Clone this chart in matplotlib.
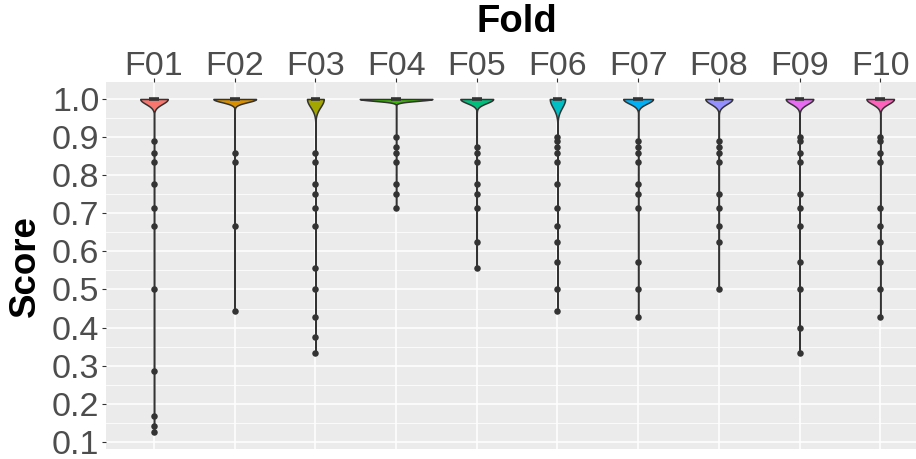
import numpy as np
import matplotlib
matplotlib.use("Agg")
import matplotlib.pyplot as plt

# ---------------- data ----------------
folds = ["F01", "F02", "F03", "F04", "F05", "F06", "F07", "F08", "F09", "F10"]
fold_colors = ["#F8766D", "#D89000", "#A3A500", "#39B600", "#00BF7D",
               "#00BFC4", "#00B0F6", "#9590FF", "#E76BF3", "#FF62BC"]
# estimated number of perfect (1.0) scores per fold
perfect_counts = [968, 454, 331, 649, 369, 206, 476, 320, 573, 464]
# scores below 1.0 per fold
low_scores = [
    [8/9, 6/7, 5/6, 7/9, 5/7, 2/3, 1/2, 2/7, 1/6, 1/7, 1/8],
    [6/7, 5/6, 2/3, 4/9],
    [6/7, 5/6, 7/9, 3/4, 5/7, 2/3, 5/9, 1/2, 3/7, 3/8, 1/3],
    [0.9, 7/8, 6/7, 5/6, 7/9, 3/4, 5/7],
    [7/8, 6/7, 5/6, 7/9, 3/4, 5/7, 5/8, 5/9],
    [0.9, 8/9, 7/8, 6/7, 5/6, 7/9, 5/7, 2/3, 5/8, 4/7, 1/2, 4/9],
    [8/9, 7/8, 6/7, 5/6, 7/9, 3/4, 5/7, 4/7, 1/2, 3/7],
    [8/9, 7/8, 6/7, 5/6, 3/4, 5/7, 2/3, 5/8, 1/2],
    [0.9, 8/9, 6/7, 5/6, 3/4, 5/7, 2/3, 4/7, 1/2, 0.4, 1/3],
    [0.9, 8/9, 6/7, 5/6, 5/7, 2/3, 5/8, 4/7, 1/2, 3/7],
]
y_ticks = [0.1, 0.2, 0.3, 0.4, 0.5, 0.6, 0.7, 0.8, 0.9, 1.0]

FONT = ["Liberation Sans", "DejaVu Sans"]
plt.rcParams["font.family"] = FONT

def nrd0(x):
    n = len(x)
    hi = np.std(x, ddof=1)
    q75, q25 = np.percentile(x, [75, 25])
    lo = min(hi, (q75 - q25) / 1.34)
    if lo == 0:
        lo = hi
    return 0.9 * lo * n ** (-0.2)

def kde(x, grid):
    bw = nrd0(x)
    z = (grid[:, None] - x[None, :]) / bw
    return np.exp(-0.5 * z ** 2).sum(axis=1) / (len(x) * bw * np.sqrt(2 * np.pi))

datasets = [np.concatenate([np.ones(n), np.array(lo)]) for n, lo in zip(perfect_counts, low_scores)]
grids, dens = [], []
for d in datasets:
    g = np.linspace(d.min(), d.max(), 512)
    grids.append(g)
    dens.append(kde(d, g))
dmax = max(dd.max() for dd in dens)

fig = plt.figure(figsize=(9.16, 4.59), dpi=100)
L, R = 105.6 / 916, 928.6 / 916
T, B = 1 - 82.3 / 459, 1 - 449 / 459
ax = fig.add_axes([L, B, R - L, T - B])
ax.set_facecolor("#EBEBEB")

for i, (g, dd, d, lo, col) in enumerate(zip(grids, dens, datasets, low_scores, fold_colors)):
    x0 = i + 1
    hw = 0.45 * dd / dmax
    ax.fill_betweenx(g, x0 - hw, x0 + hw, facecolor=col, edgecolor="#333333",
                     linewidth=1.1, zorder=3)
    # collapsed boxplot at the median
    med = np.median(d)
    ax.plot([x0 - 0.06, x0 + 0.06], [med, med], color="#333333", lw=2.6,
            solid_capstyle="butt", zorder=4)
    ax.scatter(np.full(len(lo), x0), lo, s=22, color="#333333", zorder=5,
               linewidths=0)

ax.set_xlim(0.4, 10.6)
ax.set_ylim(0.08125, 1.04375)
ax.set_xticks(range(1, 11))
ax.set_xticklabels(folds)
ax.set_yticks(y_ticks)
ax.set_yticklabels([f"{v:.1f}" for v in y_ticks])
ax.set_yticks([0.15, 0.25, 0.35, 0.45, 0.55, 0.65, 0.75, 0.85, 0.95], minor=True)
ax.xaxis.tick_top()
ax.grid(which="major", color="white", linewidth=1.1, zorder=0)
ax.grid(which="minor", axis="y", color="white", linewidth=0.55, zorder=0)
ax.set_axisbelow(True)
for s in ax.spines.values():
    s.set_visible(False)
ax.tick_params(axis="both", which="major", length=3, width=0.8, color="#333333",
               labelcolor="#4D4D4D", labelsize=24.5, pad=1.5)
ax.tick_params(axis="x", which="major", pad=-3)
ax.tick_params(axis="y", which="minor", length=0)

# axis titles
fig.text((L + R) / 2, 1 - 22 / 459, "Fold", fontsize=27.5, fontweight="bold",
         ha="center", va="center")
fig.text(25 / 916, (T + B) / 2, "Score", fontsize=26.5, fontweight="bold",
         ha="center", va="center", rotation=90)

fig.savefig("out.png", dpi=100)
